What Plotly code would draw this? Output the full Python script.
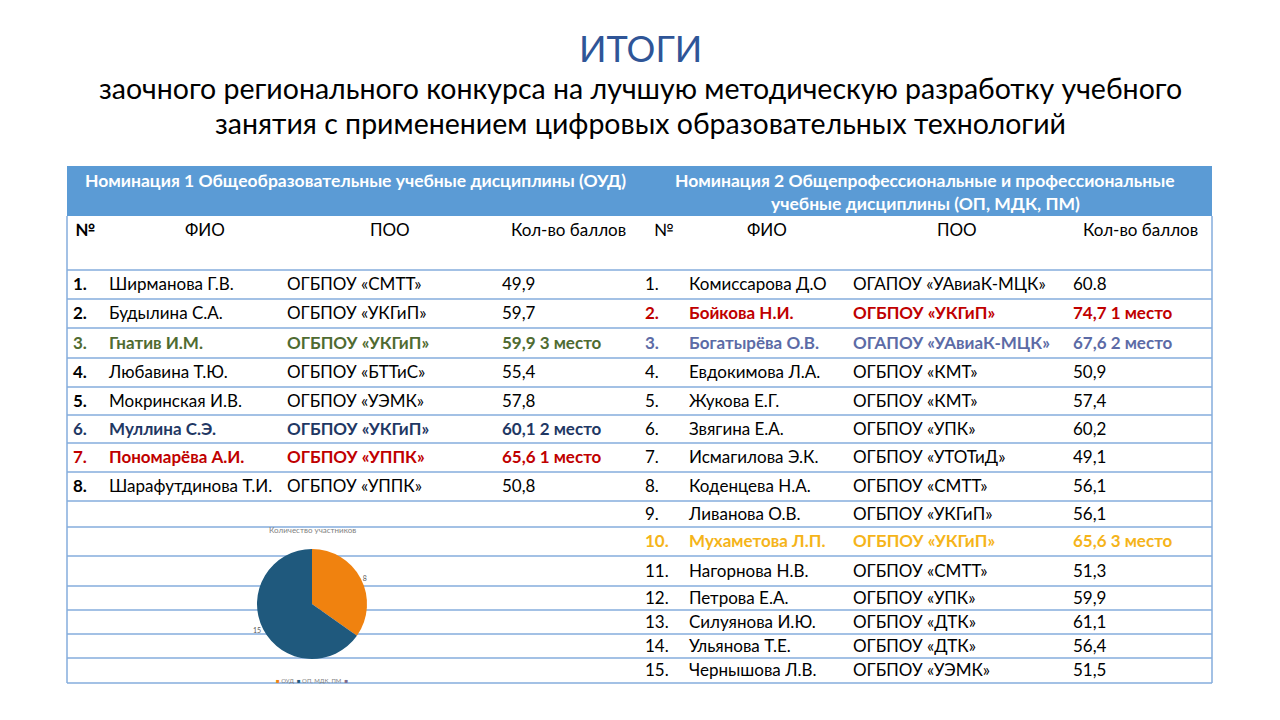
import plotly.graph_objects as go

# -------- data -------- #
title_main = "ИТОГИ"
title_sub = ["заочного регионального конкурса на лучшую методическую разработку учебного",
             "занятия с применением цифровых образовательных технологий"]

nom1_header = "Номинация 1 Общеобразовательные учебные дисциплины (ОУД)"
nom2_header = ["Номинация 2 Общепрофессиональные и профессиональные",
               "учебные дисциплины (ОП, МДК, ПМ)"]
col_headers = ["№", "ФИО", "ПОО", "Кол-во баллов"]

left_num = ["1.", "2.", "3.", "4.", "5.", "6.", "7.", "8."]
left_fio = ["Ширманова Г.В.", "Будылина С.А.", "Гнатив И.М.", "Любавина Т.Ю.",
            "Мокринская И.В.", "Муллина С.Э.", "Пономарёва А.И.", "Шарафутдинова Т.И."]
left_poo = ["ОГБПОУ «СМТТ»", "ОГБПОУ «УКГиП»", "ОГБПОУ «УКГиП»", "ОГБПОУ «БТТиС»",
            "ОГБПОУ «УЭМК»", "ОГБПОУ «УКГиП»", "ОГБПОУ «УППК»", "ОГБПОУ «УППК»"]
left_score = ["49,9", "59,7", "59,9 3 место", "55,4", "57,8", "60,1 2 место",
              "65,6 1 место", "50,8"]
left_place = [0, 0, 3, 0, 0, 2, 1, 0]

right_num = ["1.", "2.", "3.", "4.", "5.", "6.", "7.", "8.", "9.", "10.",
             "11.", "12.", "13.", "14.", "15."]
right_fio = ["Комиссарова Д.О", "Бойкова Н.И.", "Богатырёва О.В.", "Евдокимова Л.А.",
             "Жукова Е.Г.", "Звягина Е.А.", "Исмагилова Э.К.", "Коденцева Н.А.",
             "Ливанова О.В.", "Мухаметова Л.П.", "Нагорнова Н.В.", "Петрова Е.А.",
             "Силуянова И.Ю.", "Ульянова Т.Е.", "Чернышова Л.В."]
right_poo = ["ОГАПОУ «УАвиаК-МЦК»", "ОГБПОУ «УКГиП»", "ОГАПОУ «УАвиаК-МЦК»", "ОГБПОУ «КМТ»",
             "ОГБПОУ «КМТ»", "ОГБПОУ «УПК»", "ОГБПОУ «УТОТиД»", "ОГБПОУ «СМТТ»",
             "ОГБПОУ «УКГиП»", "ОГБПОУ «УКГиП»", "ОГБПОУ «СМТТ»", "ОГБПОУ «УПК»",
             "ОГБПОУ «ДТК»", "ОГБПОУ «ДТК»", "ОГБПОУ «УЭМК»"]
right_score = ["60.8", "74,7 1 место", "67,6 2 место", "50,9", "57,4", "60,2", "49,1",
               "56,1", "56,1", "65,6 3 место", "51,3", "59,9", "61,1", "56,4", "51,5"]
right_place = [0, 1, 2, 0, 0, 0, 0, 0, 0, 3, 0, 0, 0, 0, 0]

pie_title = "Количество участников"
pie_labels = ["ОУД", "ОП, МДК, ПМ", ""]
pie_values = [8, 15, 0]

# -------- layout / style -------- #
W, H = 1280, 720
OFF = 8  # page body margin, so coordinates below are screen pixels
FONT = "Lato, 'Noto Sans', sans-serif"
TS = 17
HS = 17.5
X0, X1 = 67, 1212
# horizontal row boundaries (px from top): header band, column header row, 15 rows
row_lines = [166, 216, 270, 299, 328, 358, 387, 415, 443, 472, 501, 527, 556, 586,
             610, 634, 658, 683]
line_col = "#85ACDC"
band_col = "#5B9BD5"
pie_cols = ["#F0820F", "#1F597D", "#7E6A8C"]

left_cols = [73, 109, 287, 502]
right_cols = [645, 689, 853, 1073]
left_head_x = [73, 205, 390, 568]
right_head_x = [652, 767, 957, 1140]
head_y = 229

left_colors = {0: "#000000", 1: "#C00000", 2: "#1F3864", 3: "#4F6B31"}
right_colors = {0: "#000000", 1: "#C00000", 2: "#5C6BA6", 3: "#F5B41A"}

row_y = [(row_lines[i] + row_lines[i + 1]) / 2 + 1.5 for i in range(2, len(row_lines) - 1)]


def bold(t, on):
    return f"<b>{t}</b>" if on else t


fig = go.Figure()


def add_col(x, texts, ys, colors):
    fig.add_trace(go.Scatter(
        x=[x] * len(texts), y=ys, mode="text", text=texts,
        textposition="middle right", cliponaxis=False, showlegend=False,
        hoverinfo="skip",
        textfont=dict(family=FONT, size=TS, color=colors)))


# left table
lc = [left_colors[p] for p in left_place]
ly = row_y[:len(left_num)]
add_col(left_cols[0], [bold(t, True) for t in left_num], ly, lc)
add_col(left_cols[1], [bold(t, p > 0) for t, p in zip(left_fio, left_place)], ly, lc)
add_col(left_cols[2], [bold(t, p > 0) for t, p in zip(left_poo, left_place)], ly, lc)
add_col(left_cols[3], [bold(t, p > 0) for t, p in zip(left_score, left_place)], ly, lc)

# right table
rc = [right_colors[p] for p in right_place]
ry = row_y[:len(right_num)]
add_col(right_cols[0], [bold(t, p > 0) for t, p in zip(right_num, right_place)], ry, rc)
add_col(right_cols[1], [bold(t, p > 0) for t, p in zip(right_fio, right_place)], ry, rc)
add_col(right_cols[2], [bold(t, p > 0) for t, p in zip(right_poo, right_place)], ry, rc)
add_col(right_cols[3], [bold(t, p > 0) for t, p in zip(right_score, right_place)], ry, rc)

# pie chart
pc, pr = (312, 604), 55
fig.add_trace(go.Pie(
    labels=[l if l else " " for l in pie_labels], values=pie_values, sort=False,
    direction="clockwise", rotation=0,
    text=[str(v) if v else "" for v in pie_values], textinfo="text",
    textposition="outside",
    textfont=dict(family=FONT, size=7, color="#595959"),
    marker=dict(colors=pie_cols),
    domain=dict(x=[(pc[0] - pr - OFF) / W, (pc[0] + pr - OFF) / W],
                y=[1 - (pc[1] + pr - OFF) / H, 1 - (pc[1] - pr - OFF) / H]),
    hoverinfo="skip", showlegend=False))

shapes = [dict(type="rect", x0=X0, x1=X1, y0=row_lines[0], y1=row_lines[1],
               fillcolor=band_col, line=dict(width=0), layer="below")]
for y in row_lines[2:]:
    shapes.append(dict(type="line", x0=X0, x1=X1, y0=y, y1=y,
                       line=dict(color=line_col, width=1.5), layer="below"))
for x in (X0, X1):
    shapes.append(dict(type="line", x0=x, x1=x, y0=row_lines[1], y1=row_lines[-1],
                       line=dict(color=line_col, width=1.5), layer="below"))

legend_txt = "  ".join(f"<span style='color:{c}'>■</span> {l}"
                       for l, c in zip(pie_labels, pie_cols)).strip()

ann = [
    dict(x=640, y=48, text=title_main, font=dict(family=FONT, size=36, color="#2F5597")),
    dict(x=640, y=88, text=title_sub[0], font=dict(family=FONT, size=28.5, color="#000000")),
    dict(x=640, y=123, text=title_sub[1], font=dict(family=FONT, size=28.5, color="#000000")),
    dict(x=355, y=180, text=f"<b>{nom1_header}</b>", font=dict(family=FONT, size=HS, color="white")),
    dict(x=925, y=180, text=f"<b>{nom2_header[0]}</b>", font=dict(family=FONT, size=HS, color="white")),
    dict(x=925, y=203, text=f"<b>{nom2_header[1]}</b>", font=dict(family=FONT, size=HS, color="white")),
    dict(x=312, y=530, text=pie_title, font=dict(family=FONT, size=8, color="#7F7F7F")),
    dict(x=312, y=680, text=legend_txt, font=dict(family=FONT, size=6, color="#7F7F7F")),
]
for i, h in enumerate(col_headers):
    anchor = "left" if i == 0 else "center"
    ann.append(dict(x=left_head_x[i], y=head_y, text=bold(h, i == 0), xanchor=anchor,
                    font=dict(family=FONT, size=TS, color="#000000")))
    ann.append(dict(x=right_head_x[i], y=head_y, text=h, xanchor=anchor,
                    font=dict(family=FONT, size=TS, color="#000000")))
for a in ann:
    a.update(xref="x", yref="y", showarrow=False)
    a.setdefault("xanchor", "center")

fig.update_layout(
    width=W, height=H, margin=dict(l=0, r=0, t=0, b=0),
    paper_bgcolor="white", plot_bgcolor="white", showlegend=False,
    xaxis=dict(range=[OFF, W + OFF], visible=False, fixedrange=True),
    yaxis=dict(range=[H + OFF, OFF], visible=False, fixedrange=True),
    shapes=shapes, annotations=ann,
)

fig.write_html("out.html")
